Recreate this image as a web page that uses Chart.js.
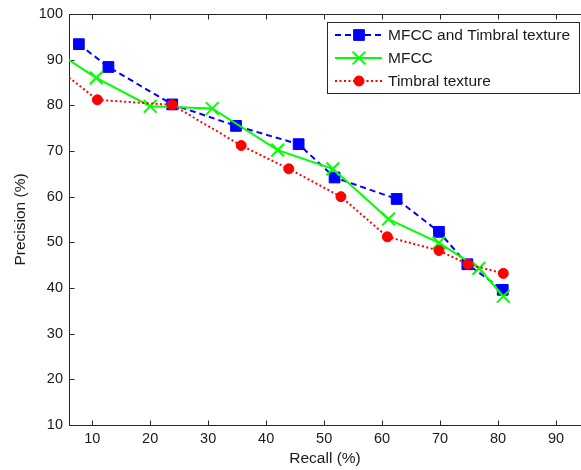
<!DOCTYPE html>
<html>
<head>
<meta charset="utf-8">
<script src="https://cdn.jsdelivr.net/npm/chart.js@4.4.1/dist/chart.umd.min.js"></script>
<style>
  html, body { margin: 0; padding: 0; background: #fff; }
  #wrap { width: 581px; height: 470px; position: relative; }
</style>
</head>
<body>
<div id="wrap"><canvas id="c" width="581" height="470"></canvas></div>
<script>
// ---- data ----
const seriesNames = ['MFCC and Timbral texture', 'MFCC', 'Timbral texture'];
const recallMT    = [7.7, 12.8, 23.8, 34.8, 45.6, 51.8, 62.5, 69.8, 74.7, 80.8];
const precisionMT = [93.4, 88.4, 80.2, 75.5, 71.5, 64.2, 59.5, 52.3, 45.2, 39.6];
const recallM     = [6.0, 10.7, 20.0, 30.7, 42.0, 51.5, 61.1, 69.8, 76.7, 80.9];
const precisionM  = [89.9, 86.0, 79.8, 79.3, 70.2, 66.1, 55.1, 49.9, 44.3, 38.2];
const recallT     = [6.0, 10.9, 23.8, 35.7, 43.9, 52.9, 60.9, 69.8, 74.8, 80.9];
const precisionT  = [86.1, 81.2, 80.1, 71.2, 66.1, 60.0, 51.2, 48.2, 45.2, 43.2];
const xTicks = [10, 20, 30, 40, 50, 60, 70, 80, 90];
const yTicks = [10, 20, 30, 40, 50, 60, 70, 80, 90, 100];
const xTitle = 'Recall (%)';
const yTitle = 'Precision (%)';

const FONT = "'Liberation Sans', Arial, sans-serif";
const TXT = '#1a1a1a';
const markerRadii = [7.6, 9, 5];

function pts(xs, ys) { return xs.map((x, i) => ({ x: x, y: ys[i] })); }
function radii(n, r, hideFirst) { return Array.from({ length: n }, (_, i) => (hideFirst && i === 0) ? 0 : r); }

const datasets = [
  {
    label: seriesNames[0], data: pts(recallMT, precisionMT),
    borderColor: '#0000ff', backgroundColor: '#0000ff', borderWidth: 2,
    borderDash: [6, 4], pointStyle: 'rect', pointRadius: markerRadii[0],
    pointBorderWidth: 1, pointBackgroundColor: '#0000ff', pointBorderColor: '#0000ff',
    order: 3, tension: 0
  },
  {
    label: seriesNames[1], data: pts(recallM, precisionM),
    borderColor: '#00ff00', backgroundColor: '#00ff00', borderWidth: 2,
    pointStyle: 'crossRot', pointRadius: radii(recallM.length, markerRadii[1], true),
    pointBorderWidth: 2, pointBorderColor: '#00ff00',
    order: 2, tension: 0
  },
  {
    label: seriesNames[2], data: pts(recallT, precisionT),
    borderColor: '#ff0000', backgroundColor: '#ff0000', borderWidth: 2,
    borderDash: [2, 2.5], pointStyle: 'circle', pointRadius: radii(recallT.length, markerRadii[2], true),
    pointBorderWidth: 1, pointBackgroundColor: '#ff0000', pointBorderColor: '#ff0000',
    order: 1, tension: 0
  }
];

const axesPlugin = {
  id: 'matlabAxes',
  beforeDatasetsDraw(chart) {
    const ctx = chart.ctx, a = chart.chartArea;
    const xs = chart.scales.x, ys = chart.scales.y;
    const TL = 5;
    ctx.save();
    ctx.strokeStyle = '#262626';
    ctx.lineWidth = 1;
    ctx.beginPath();
    const L = Math.round(a.left) + 0.5, T = Math.round(a.top) + 0.5, B = Math.round(a.bottom) + 0.5, R = a.right + 2;
    ctx.moveTo(R, T); ctx.lineTo(L, T); ctx.lineTo(L, B); ctx.lineTo(R, B);
    xTicks.forEach(v => {
      const px = Math.round(xs.getPixelForValue(v)) + 0.5;
      ctx.moveTo(px, B); ctx.lineTo(px, B - TL);
      ctx.moveTo(px, T); ctx.lineTo(px, T + TL);
    });
    yTicks.forEach(v => {
      const py = Math.round(ys.getPixelForValue(v)) + 0.5;
      ctx.moveTo(L, py); ctx.lineTo(L + TL, py);
    });
    ctx.stroke();
    ctx.restore();
  },
  afterDraw(chart) {
    const ctx = chart.ctx, a = chart.chartArea;
    const boxR = 579, boxT = a.top + 8;
    const boxL = boxR - 252, boxB = boxT + 71;
    ctx.save();
    ctx.fillStyle = '#fff';
    ctx.fillRect(boxL, boxT, boxR - boxL, boxB - boxT);
    ctx.strokeStyle = '#262626'; ctx.lineWidth = 1;
    ctx.strokeRect(Math.round(boxL) + 0.5, Math.round(boxT) + 0.5, Math.round(boxR - boxL), Math.round(boxB - boxT));
    const rowY = [13, 36, 59];
    ctx.font = '15.5px ' + FONT;
    ctx.textBaseline = 'middle';
    ctx.textAlign = 'left';
    chart.data.datasets.forEach((ds, i) => {
      const y = boxT + rowY[i];
      const x0 = boxL + 8, x1 = boxL + 55, xm = boxL + 32;
      ctx.save();
      ctx.strokeStyle = ds.borderColor; ctx.lineWidth = ds.borderWidth;
      ctx.setLineDash(ds.borderDash || []);
      ctx.beginPath(); ctx.moveTo(x0, y); ctx.lineTo(x1, y); ctx.stroke();
      ctx.setLineDash([]);
      ctx.fillStyle = ds.borderColor; ctx.strokeStyle = ds.borderColor;
      ctx.lineWidth = ds.pointBorderWidth;
      Chart.helpers.drawPoint(ctx, { pointStyle: ds.pointStyle, rotation: 0, borderWidth: ds.pointBorderWidth, radius: markerRadii[i] }, xm, y);
      ctx.restore();
      ctx.fillStyle = TXT;
      ctx.fillText(ds.label, boxL + 61, y + 1);
    });
    ctx.restore();
  }
};

new Chart(document.getElementById('c'), {
  type: 'line',
  data: { datasets: datasets },
  plugins: [axesPlugin],
  options: {
    responsive: false,
    animation: false,
    layout: { autoPadding: false, padding: { left: 0, right: 0, top: 14, bottom: 0 } },
    plugins: { legend: { display: false }, tooltip: { enabled: false } },
    elements: { line: { fill: false } },
    scales: {
      x: {
        type: 'linear', min: 6, max: 94.3,
        afterFit(s) { s.height = 45; s.paddingLeft = 0; s.paddingRight = 0; },
        afterBuildTicks(s) { s.ticks = xTicks.map(v => ({ value: v })); },
        grid: { display: false, drawTicks: false },
        border: { display: false },
        ticks: { padding: 5.5, color: TXT, font: { family: FONT, size: 14.5 }, maxRotation: 0, autoSkip: false },
        title: { display: true, text: xTitle, color: TXT, font: { family: FONT, size: 15.5 }, padding: { top: 0, bottom: 2 } }
      },
      y: {
        type: 'linear', min: 10, max: 100,
        afterFit(s) { s.width = 69; s.paddingTop = 0; s.paddingBottom = 0; },
        afterBuildTicks(s) { s.ticks = yTicks.map(v => ({ value: v })); },
        grid: { display: false, drawTicks: false },
        border: { display: false },
        ticks: { padding: 6, color: TXT, font: { family: FONT, size: 14.5 }, autoSkip: false },
        title: { display: true, text: yTitle, color: TXT, font: { family: FONT, size: 15.5 }, padding: { top: 11, bottom: 0 } }
      }
    }
  }
});
</script>
</body>
</html>
